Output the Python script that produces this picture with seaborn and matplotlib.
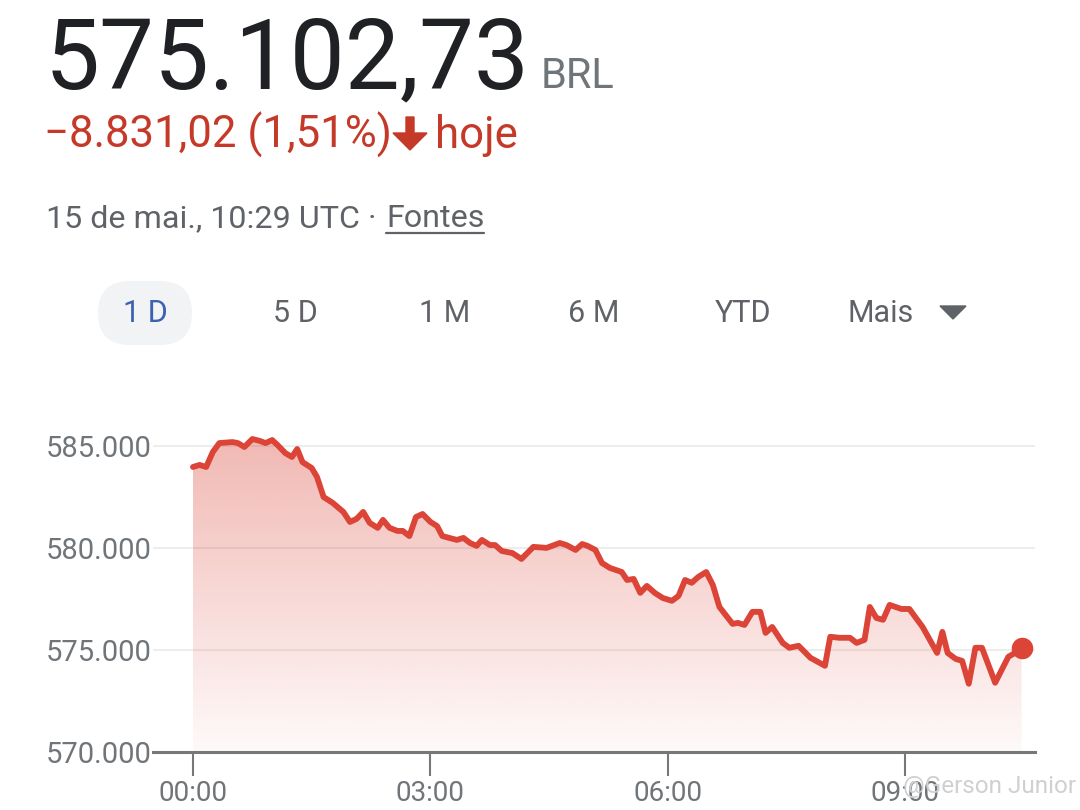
import matplotlib

matplotlib.use("Agg")

import matplotlib.pyplot as plt
import numpy as np
import pandas as pd
import seaborn as sns
from matplotlib.colors import to_rgb
from matplotlib.lines import Line2D
from matplotlib.patches import FancyBboxPatch, Polygon
from matplotlib.transforms import IdentityTransform


# intraday quote, minutes after 00:00 UTC
minutes = [0, 5, 10, 15, 20, 30, 34, 39, 45, 51, 55, 60, 64, 70, 75, 79, 83, 90, 94, 99,
           106, 114, 119, 124, 129, 134, 140, 144, 149, 155, 159, 164, 169, 174, 180, 185,
           189, 200, 205, 210, 215, 219, 225, 229, 234, 242, 249, 258, 268, 278, 283, 290,
           295, 299, 305, 310, 316, 325, 329, 334, 339, 344, 350, 356, 363, 368, 373, 378,
           383, 389, 394, 399, 409, 413, 418, 424, 430, 434, 439, 447, 452, 459, 468, 479,
           483, 490, 498, 503, 509, 513, 518, 523, 528, 537, 543, 549, 553, 564, 568, 572,
           578, 583, 588, 593, 598, 608, 618, 623, 628]
prices = [583950, 584050, 583950, 584680, 585120, 585170, 585120, 584930, 585320, 585220,
          585120, 585270, 585030, 584630, 584440, 584830, 584190, 583900, 583460, 582480,
          582190, 581750, 581260, 581410, 581750, 581210, 580970, 581360, 580970, 580820,
          580820, 580570, 581500, 581650, 581260, 581060, 580570, 580380, 580480, 580230,
          580090, 580380, 580130, 580130, 579840, 579740, 579450, 580040, 579990, 580230,
          580130, 579890, 580180, 580090, 579890, 579250, 579010, 578810, 578420, 578470,
          577790, 578130, 577790, 577540, 577400, 577640, 578420, 578280, 578570, 578810,
          578180, 577100, 576270, 576320, 576220, 576860, 576860, 575830, 576120, 575340,
          575100, 575200, 574610, 574220, 575640, 575590, 575590, 575340, 575490, 577100,
          576560, 576470, 577200, 577000, 577000, 576470, 576120, 574850, 575880, 574850,
          574560, 574460, 573340, 575100, 575100, 573390, 574660, 574850, 575103]

y_ticks = [570000, 575000, 580000, 585000]
x_ticks = [0, 180, 360, 540]
x_tick_labels = ["00:00", "03:00", "06:00", "09:00"]
tabs = ["1 D", "5 D", "1 M", "6 M", "YTD", "Mais"]
tab_centers = [145, 295, 445, 594, 743, 881]

LINE_RED = "#db4437"
TEXT_RED = "#c53929"
GRAY = "#70757a"
W, H = 1080, 810


def fx(x):
    return x / W


def fy(y):
    return 1 - y / H


def thousands(v):
    return f"{v:,}".replace(",", ".")


def pixel_polygon(points, color):
    # points given in screenshot pixels, origin top-left
    return Polygon([(x, H - y) for x, y in points], closed=True, color=color,
                   transform=IdentityTransform())


sns.set_theme(style="white")
plt.rcParams["font.family"] = ["Roboto", "DejaVu Sans"]

df = pd.DataFrame({"minute": minutes, "price": prices})

fig = plt.figure(figsize=(10.8, 8.1), dpi=100)
ax = fig.add_axes([fx(153), 58 / H, 882 / W, 332 / H])

# gradient fill under the line
fill = ax.fill_between(df["minute"], df["price"], 570000, color="none", lw=0)
grad = np.zeros((256, 1, 4))
grad[:, 0, :3] = to_rgb(LINE_RED)
grad[:, 0, 3] = np.linspace(0.38, 0.03, 256)
img = ax.imshow(grad, extent=[df["minute"].iloc[0], df["minute"].iloc[-1], 570000, 585400],
                aspect="auto", origin="upper", zorder=1)
img.set_clip_path(fill.get_paths()[0], transform=ax.transData)

sns.lineplot(data=df, x="minute", y="price", color=LINE_RED, linewidth=4.2, ax=ax, zorder=3)
ax.scatter(df["minute"].iloc[-1], df["price"].iloc[-1], s=15.5 ** 2, color=LINE_RED,
           zorder=4, linewidths=0)

ax.set_xlim(-30.3, 638.2)
ax.set_ylim(570000, 586250)
ax.set_yticks(y_ticks)
ax.set_yticklabels([thousands(v) for v in y_ticks])
ax.set_xticks(x_ticks)
ax.set_xticklabels(x_tick_labels)
ax.set_xlabel("")
ax.set_ylabel("")
ax.grid(axis="y", color="#ededed", lw=1.5, zorder=0)
for side in ["top", "right", "left"]:
    ax.spines[side].set_visible(False)
ax.spines["bottom"].set_color("#777777")
ax.spines["bottom"].set_linewidth(2.2)
ax.spines["bottom"].set_zorder(5)
ax.tick_params(axis="y", length=0, pad=1, labelsize=21, labelcolor=GRAY)
ax.tick_params(axis="x", bottom=True, direction="out", length=17, width=1.5, color="#777777",
               pad=3, labelsize=20, labelcolor=GRAY)

# header
fig.text(fx(45), fy(88), "575.102,73", size=70.5, color="#202124", va="baseline")
fig.text(fx(541), fy(88), "BRL", size=30, color=GRAY, va="baseline")
fig.text(fx(44), fy(148), "\u22128.831,02 (1,51%)", size=31.5, color=TEXT_RED, va="baseline")
fig.text(fx(435), fy(148), "hoje", size=31.5, color=TEXT_RED, va="baseline")
arrow = [(406, 117), (414, 117), (414, 133), (427, 133), (410, 150), (393, 133), (406, 133)]
fig.add_artist(pixel_polygon(arrow, TEXT_RED))

fig.text(fx(46), fy(227), "15 de mai., 10:29 UTC \u00b7", size=23.2, color="#5f6368",
         va="baseline")
fig.text(fx(386), fy(227), "Fontes", size=23.2, color="#5f6368", va="baseline")
fig.add_artist(Line2D([386, 484], [H - 233, H - 233], color="#5f6368", lw=1.6,
                      transform=IdentityTransform()))

# range tabs
fig.add_artist(FancyBboxPatch((98, H - 345), 94, 64, boxstyle="round,pad=0,rounding_size=32",
                              color="#f1f3f4", lw=0, transform=IdentityTransform()))
for label, cx in zip(tabs, tab_centers):
    color = "#3d63b0" if label == "1 D" else "#5f6368"
    fig.text(fx(cx), fy(313), label, size=22, color=color, ha="center", va="center")
fig.add_artist(pixel_polygon([(940, 306), (966, 306), (953, 319)], "#5f6368"))

fig.text(fx(903), fy(786), "@Gerson Junior", size=17.5, color="#d0d0d0", va="center")

fig.savefig("out.png", dpi=100)
